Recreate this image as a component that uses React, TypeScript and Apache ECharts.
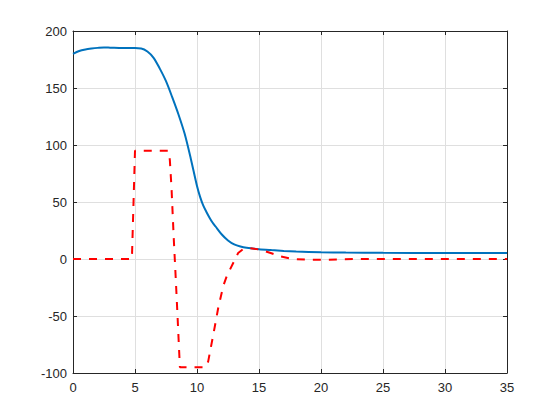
import React, { useEffect, useRef } from "react";
import * as echarts from "echarts";

const xTicks = [0, 5, 10, 15, 20, 25, 30, 35];
const yTicks = [-100, -50, 0, 50, 100, 150, 200];

const blueX = [0, 0.5, 1, 1.5, 2, 2.5, 3, 4, 5, 5.5, 6, 6.5, 7, 7.5, 8, 8.5, 9, 9.5, 10, 10.25, 10.5, 10.75, 11, 11.25, 11.5, 12, 12.5, 13, 13.5, 14, 15, 16, 17, 18, 20, 22, 25, 30, 35];
const blueY = [180, 182.5, 183.8, 184.6, 185.2, 185.6, 185.4, 185, 185, 184.7, 182, 176.5, 167, 156, 142, 127, 110, 88, 64, 54.5, 47, 41.5, 36.5, 32, 28.5, 21.5, 16.3, 12.8, 10.9, 9.8, 8.6, 7.8, 7.1, 6.6, 5.9, 5.6, 5.4, 5.3, 5.3];

const redX = [0, 4.75, 5.0, 7.67, 7.81, 7.95, 8.13, 8.29, 8.43, 8.62, 10.64, 10.9, 11.04, 11.44, 11.71, 12.11, 12.39, 12.92, 13.32, 13.73, 14.2, 15.1, 16, 16.7, 17.7, 19, 20.5, 23, 35];
const redY = [0, 0, 95, 95, 87, 61, 17, -18, -50, -95, -95, -90, -82, -59, -43, -24, -15.3, -3.5, 5.3, 8.8, 9.6, 8.2, 5, 2.3, 0, -0.6, -0.6, 0, 0];

const pairs = (xs: number[], ys: number[]) => xs.map((x, i) => [x, ys[i]]);

const textColor = "#262626";
const gridColor = "#dfdfdf";
const font = "Liberation Sans, Arial, Helvetica, sans-serif";

export default function App() {
  const ref = useRef<HTMLDivElement>(null);
  useEffect(() => {
    if (!ref.current) return;
    const chart = echarts.init(ref.current, undefined, { renderer: "svg" });
    const axisLine = { show: true, lineStyle: { color: textColor, width: 1 } };
    const tick = { show: true, inside: true, length: 4, lineStyle: { color: textColor } };
    chart.setOption({
      animation: false,
      backgroundColor: "#ffffff",
      grid: { left: 73, top: 31, right: 53, bottom: 47, containLabel: false },
      xAxis: [
        {
          type: "value",
          min: xTicks[0],
          max: xTicks[xTicks.length - 1],
          interval: 5,
          position: "bottom",
          axisLine: { ...axisLine, onZero: false },
          axisTick: tick,
          axisLabel: { color: textColor, fontSize: 13, fontFamily: font, margin: 8 },
          splitLine: { show: true, lineStyle: { color: gridColor, width: 1 } },
        },
        {
          type: "value",
          min: xTicks[0],
          max: xTicks[xTicks.length - 1],
          interval: 5,
          position: "top",
          axisLine: { ...axisLine, onZero: false },
          axisTick: tick,
          axisLabel: { show: false },
          splitLine: { show: false },
        },
      ],
      yAxis: [
        {
          type: "value",
          min: yTicks[0],
          max: yTicks[yTicks.length - 1],
          interval: 50,
          position: "left",
          axisLine: { ...axisLine, onZero: false },
          axisTick: tick,
          axisLabel: { color: textColor, fontSize: 13, fontFamily: font, margin: 6 },
          splitLine: { show: true, lineStyle: { color: gridColor, width: 1 } },
        },
        {
          type: "value",
          min: yTicks[0],
          max: yTicks[yTicks.length - 1],
          interval: 50,
          position: "right",
          axisLine: { ...axisLine, onZero: false },
          axisTick: tick,
          axisLabel: { show: false },
          splitLine: { show: false },
        },
      ],
      series: [
        {
          type: "line",
          xAxisIndex: 0,
          yAxisIndex: 0,
          data: pairs(blueX, blueY),
          showSymbol: false,
          smooth: 0.3,
          lineStyle: { color: "#0072BD", width: 2 },
          itemStyle: { color: "#0072BD" },
          z: 3,
        },
        {
          type: "line",
          xAxisIndex: 0,
          yAxisIndex: 0,
          data: pairs(redX, redY),
          showSymbol: false,
          smooth: false,
          lineStyle: { color: "#FF0000", width: 2, type: [8, 8] },
          itemStyle: { color: "#FF0000" },
          z: 4,
        },
      ],
    });
    return () => chart.dispose();
  }, []);
  return (
    <div
      ref={ref}
      style={{ position: "absolute", left: 0, top: 0, width: 560, height: 420, background: "#fff" }}
    />
  );
}
